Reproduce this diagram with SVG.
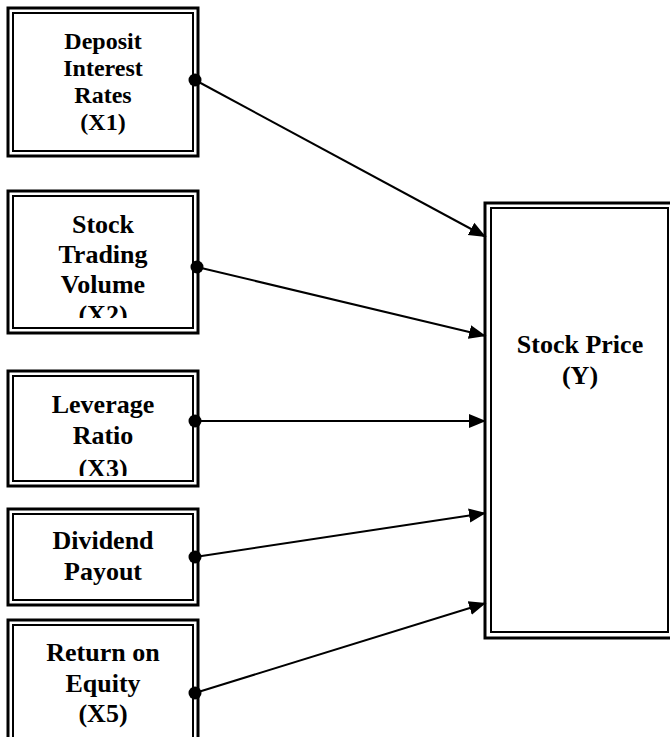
<svg xmlns="http://www.w3.org/2000/svg" width="670" height="737" viewBox="0 0 670 737">
  <style>
    .outer { fill: #fff; stroke: #000; stroke-width: 3; }
    .inner { fill: none; stroke: #000; stroke-width: 2; }
    .lbl { font-family: "Liberation Serif", "Times New Roman", serif; font-weight: bold; font-size: 26px; fill: #000; text-anchor: middle; }
    .small { font-size: 24px; }
    .link { stroke: #000; stroke-width: 2; fill: none; marker-end: url(#arrow); }
    .dot { fill: #000; }
  </style>
  <defs>
    <marker id="arrow" markerUnits="userSpaceOnUse" markerWidth="18" markerHeight="16" viewBox="0 0 18 16" refX="17" refY="8" orient="auto">
      <path d="M0,1 L17,8 L0,15 Z" fill="#000"/>
    </marker>
    <clipPath id="clipX2"><rect x="13" y="196" width="180" height="122"/></clipPath>
    <clipPath id="clipX3"><rect x="13" y="376" width="180" height="100"/></clipPath>
  </defs>

  <!-- independent variables -->
  <g id="x1">
    <rect class="outer" x="8" y="8" width="190" height="148"/>
    <rect class="inner" x="13" y="13" width="180" height="138"/>
    <text class="lbl small" x="103" y="49">Deposit</text>
    <text class="lbl small" x="103" y="76">Interest</text>
    <text class="lbl small" x="103" y="103">Rates</text>
    <text class="lbl small" x="103" y="130">(X1)</text>
  </g>

  <g id="x2">
    <rect class="outer" x="8" y="191" width="190" height="142"/>
    <rect class="inner" x="13" y="196" width="180" height="132"/>
    <g clip-path="url(#clipX2)">
      <text class="lbl" x="103" y="233">Stock</text>
      <text class="lbl" x="103" y="263">Trading</text>
      <text class="lbl" x="103" y="293">Volume</text>
      <text class="lbl" x="103" y="323">(X2)</text>
    </g>
  </g>

  <g id="x3">
    <rect class="outer" x="8" y="371" width="190" height="115"/>
    <rect class="inner" x="13" y="376" width="180" height="105"/>
    <g clip-path="url(#clipX3)">
      <text class="lbl" x="103" y="413">Leverage</text>
      <text class="lbl" x="103" y="444">Ratio</text>
      <text class="lbl" x="103" y="477">(X3)</text>
    </g>
  </g>

  <g id="x4">
    <rect class="outer" x="8" y="509" width="190" height="96"/>
    <rect class="inner" x="13" y="514" width="180" height="86"/>
    <text class="lbl" x="103" y="549">Dividend</text>
    <text class="lbl" x="103" y="580">Payout</text>
  </g>

  <g id="x5">
    <rect class="outer" x="8" y="620" width="190" height="140"/>
    <rect class="inner" x="13" y="625" width="180" height="130"/>
    <text class="lbl" x="103" y="661">Return on</text>
    <text class="lbl" x="103" y="692">Equity</text>
    <text class="lbl" x="103" y="722">(X5)</text>
  </g>

  <!-- dependent variable -->
  <g id="y">
    <rect class="outer" x="485" y="203" width="192" height="435"/>
    <rect class="inner" x="491" y="208" width="177" height="424"/>
    <text class="lbl" x="580" y="353">Stock Price</text>
    <text class="lbl" x="580" y="384">(Y)</text>
  </g>

  <!-- connectors -->
  <g id="connectors">
    <line class="link" x1="195" y1="80" x2="486" y2="237"/>
    <line class="link" x1="197" y1="267" x2="486" y2="336"/>
    <line class="link" x1="195" y1="421" x2="486" y2="421"/>
    <line class="link" x1="195" y1="557" x2="486" y2="513"/>
    <line class="link" x1="195" y1="693" x2="486" y2="603"/>
    <circle class="dot" cx="195" cy="80" r="6.5"/>
    <circle class="dot" cx="197" cy="267" r="6.5"/>
    <circle class="dot" cx="195" cy="421" r="6.5"/>
    <circle class="dot" cx="195" cy="557" r="6.5"/>
    <circle class="dot" cx="195" cy="693" r="6.5"/>
  </g>
</svg>
